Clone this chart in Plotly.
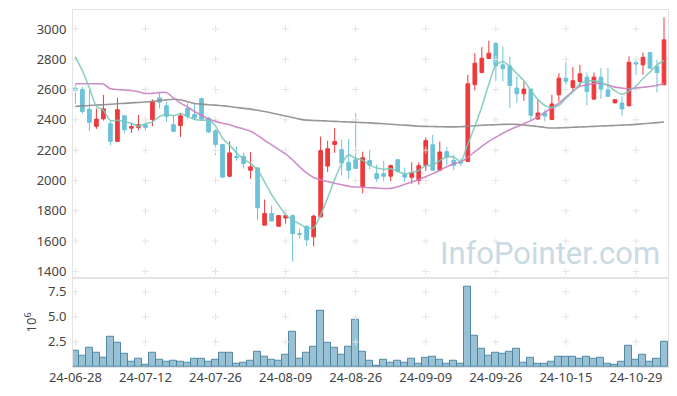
import plotly.graph_objects as go

dates = [
    "2024-06-28",
    "2024-07-01", "2024-07-02", "2024-07-03", "2024-07-04", "2024-07-05",
    "2024-07-08", "2024-07-09", "2024-07-10", "2024-07-11", "2024-07-12",
    "2024-07-15", "2024-07-16", "2024-07-17", "2024-07-18", "2024-07-19",
    "2024-07-22", "2024-07-23", "2024-07-24", "2024-07-25", "2024-07-26",
    "2024-07-29", "2024-07-30", "2024-07-31", "2024-08-01", "2024-08-02",
    "2024-08-05", "2024-08-06", "2024-08-07", "2024-08-08", "2024-08-09",
    "2024-08-12", "2024-08-13", "2024-08-14", "2024-08-16", "2024-08-19",
    "2024-08-20", "2024-08-21", "2024-08-22", "2024-08-23", "2024-08-26",
    "2024-08-27", "2024-08-28", "2024-08-29", "2024-08-30", "2024-09-02",
    "2024-09-03", "2024-09-04", "2024-09-05", "2024-09-06", "2024-09-09",
    "2024-09-10", "2024-09-11", "2024-09-12", "2024-09-13", "2024-09-19",
    "2024-09-20", "2024-09-23", "2024-09-24", "2024-09-25", "2024-09-26",
    "2024-09-27", "2024-09-30", "2024-10-02", "2024-10-04", "2024-10-07",
    "2024-10-08", "2024-10-10", "2024-10-11", "2024-10-14", "2024-10-15",
    "2024-10-16", "2024-10-17", "2024-10-18", "2024-10-21", "2024-10-22",
    "2024-10-23", "2024-10-24", "2024-10-25", "2024-10-28", "2024-10-29",
    "2024-10-30", "2024-10-31", "2024-11-01", "2024-11-04",
]

open_ = [2610, 2600, 2470, 2357, 2407, 2375, 2258, 2427, 2345, 2350,
         2368, 2402, 2545, 2493, 2368, 2362, 2475, 2435, 2540, 2410,
         2328, 2237, 2028, 2158, 2160, 2067, 2083, 1705, 1782, 1698,
         1752, 1768, 1650, 1698, 1628, 1760, 2095, 2238, 2203, 2120,
         2137, 1960, 2131, 2045, 2045, 2028, 2137, 2040, 2021, 2000,
         2098, 2236, 2067, 2190, 2133, 2125, 2126, 2632, 2712, 2805,
         2905, 2763, 2756, 2610, 2572, 2603, 2405, 2445, 2402, 2565,
         2675, 2614, 2653, 2682, 2537, 2682, 2598, 2512, 2511, 2493,
         2780, 2763, 2844, 2752, 2631]
high = [2635, 2615, 2595, 2475, 2565, 2400, 2545, 2432, 2380, 2432,
        2395, 2535, 2577, 2518, 2427, 2445, 2510, 2505, 2548, 2420,
        2338, 2238, 2258, 2225, 2183, 2188, 2090, 1874, 1835, 1770,
        1803, 1775, 1680, 1703, 1775, 2290, 2262, 2346, 2268, 2274,
        2445, 2190, 2203, 2105, 2128, 2105, 2140, 2085, 2120, 2120,
        2285, 2302, 2256, 2220, 2170, 2145, 2697, 2840, 2880, 2922,
        2910, 2884, 2818, 2690, 2653, 2605, 2533, 2467, 2565, 2708,
        2785, 2748, 2763, 2712, 2712, 2741, 2741, 2535, 2555, 2818,
        2796, 2844, 2848, 2796, 3077]
low = [2505, 2440, 2328, 2340, 2395, 2232, 2255, 2312, 2313, 2330,
       2330, 2358, 2475, 2387, 2318, 2287, 2405, 2400, 2396, 2313,
       2168, 2021, 2022, 2130, 2078, 2010, 1737, 1705, 1730, 1695,
       1715, 1464, 1617, 1568, 1565, 1755, 2056, 2182, 2033, 2010,
       2078, 1915, 2072, 1990, 1995, 1995, 2055, 1992, 1978, 1973,
       2062, 2066, 2062, 2100, 2068, 2095, 2125, 2595, 2710, 2805,
       2653, 2655, 2478, 2512, 2526, 2396, 2405, 2390, 2400, 2521,
       2631, 2588, 2620, 2495, 2533, 2537, 2553, 2510, 2428, 2489,
       2697, 2697, 2740, 2581, 2630]
close = [2595, 2455, 2383, 2405, 2473, 2258, 2467, 2335, 2355, 2368,
         2350, 2520, 2517, 2423, 2324, 2427, 2423, 2412, 2405, 2320,
         2238, 2022, 2182, 2152, 2112, 2090, 1820, 1782, 1733, 1768,
         1768, 1650, 1645, 1608, 1765, 2197, 2210, 2257, 2116, 2067,
         2080, 2150, 2100, 2012, 2028, 2098, 2060, 2022, 2050, 2098,
         2263, 2068, 2188, 2155, 2100, 2115, 2638, 2774, 2807, 2840,
         2756, 2737, 2627, 2572, 2603, 2430, 2445, 2425, 2505, 2675,
         2655, 2658, 2704, 2587, 2682, 2603, 2555, 2533, 2472, 2780,
         2768, 2813, 2741, 2712, 2928]

volume_m = [1.62, 1.09, 1.88, 1.39, 0.89, 2.98, 2.38, 1.29, 0.50, 0.79,
            0.20, 1.39, 0.69, 0.50, 0.60, 0.50, 0.40, 0.79, 0.79, 0.50,
            0.69, 1.39, 1.39, 0.30, 0.40, 0.60, 1.49, 0.99, 0.69, 0.60,
            1.19, 3.47, 0.79, 1.39, 1.98, 5.65, 2.38, 1.88, 1.19, 1.98,
            4.76, 1.49, 0.60, 0.16, 0.69, 0.40, 0.60, 0.40, 0.79, 0.30,
            0.89, 0.99, 0.69, 0.30, 0.60, 0.30, 8.04, 3.07, 1.78, 1.09,
            1.39, 1.29, 1.49, 1.78, 0.40, 0.89, 0.30, 0.30, 0.50, 0.99,
            0.99, 0.99, 0.79, 0.99, 0.79, 0.89, 0.30, 0.20, 0.50, 2.08,
            0.69, 1.19, 0.50, 0.79, 2.48]

ma5 = [2818, 2724, 2610, 2489, 2462, 2395, 2397, 2388, 2378, 2357,
       2375, 2386, 2422, 2436, 2427, 2442, 2423, 2402, 2398, 2397,
       2360, 2279, 2233, 2183, 2141, 2112, 2071, 1991, 1907, 1839,
       1774, 1740, 1713, 1688, 1687, 1773, 1885, 2007, 2109, 2169,
       2146, 2134, 2103, 2082, 2074, 2078, 2060, 2044, 2052, 2066,
       2099, 2100, 2133, 2154, 2155, 2125, 2239, 2356, 2487, 2635,
       2763, 2783, 2753, 2706, 2659, 2594, 2535, 2495, 2482, 2496,
       2541, 2584, 2639, 2656, 2657, 2647, 2626, 2592, 2569, 2589,
       2622, 2673, 2715, 2763, 2792]
ma20 = [2638, 2638, 2638, 2638, 2636, 2605, 2600, 2597, 2594, 2585,
        2574, 2575, 2580, 2580, 2545, 2510, 2485, 2455, 2430, 2405,
        2390, 2378, 2368, 2352, 2340, 2325, 2298, 2265, 2235, 2205,
        2175, 2135, 2090, 2050, 2020, 2005, 1993, 1982, 1972, 1962,
        1957, 1955, 1952, 1950, 1947, 1948, 1958, 1975, 1990, 2005,
        2025, 2045, 2068, 2090, 2110, 2122, 2153, 2190, 2225, 2258,
        2285, 2312, 2335, 2355, 2375, 2395, 2420, 2450, 2480, 2510,
        2550, 2590, 2620, 2631, 2640, 2642, 2630, 2616, 2610, 2605,
        2610, 2615, 2620, 2628, 2638]
ma120 = [2489, 2492, 2495, 2498, 2500, 2503, 2506, 2509, 2512, 2515,
         2518, 2522, 2527, 2532, 2536, 2533, 2520, 2508, 2504, 2500,
         2497, 2493, 2488, 2482, 2476, 2471, 2463, 2455, 2445, 2435,
         2425, 2415, 2405, 2398, 2396, 2394, 2392, 2390, 2388, 2386,
         2384, 2382, 2380, 2377, 2374, 2371, 2368, 2365, 2362, 2358,
         2357, 2356, 2355, 2354, 2354, 2355, 2358, 2361, 2364, 2366,
         2368, 2370, 2371, 2370, 2366, 2361, 2356, 2350, 2346, 2347,
         2349, 2351, 2353, 2355, 2357, 2359, 2361, 2363, 2365, 2367,
         2370, 2374, 2378, 2382, 2386]

tick_dates = ["2024-06-28", "2024-07-12", "2024-07-26", "2024-08-09",
              "2024-08-26", "2024-09-09", "2024-09-26", "2024-10-15",
              "2024-10-29"]
tick_labels = ["24-06-28", "24-07-12", "24-07-26", "24-08-09",
               "24-08-26", "24-09-09", "24-09-26", "24-10-15",
               "24-10-29"]
price_ticks = [1400, 1600, 1800, 2000, 2200, 2400, 2600, 2800, 3000]
vol_ticks = [2.5, 5.0, 7.5]

RED = "#EE3A3C"
BLUE = "#6CC2D8"
GRID = "#E4E4E4"
FRAME = "#E3E3E3"
FONT = dict(family="Noto Sans, Open Sans, sans-serif", size=13, color="#444444")

fig = go.Figure()

# grid crosses at tick intersections
gx, gy = [], []
for d in tick_dates:
    for p in price_ticks:
        gx.append(d)
        gy.append(p)
fig.add_trace(go.Scatter(x=gx, y=gy, mode="markers", xaxis="x2", yaxis="y2",
                         marker=dict(symbol="cross-thin", size=5,
                                     line=dict(color=GRID, width=1)),
                         hoverinfo="skip", showlegend=False))
vx, vy = [], []
for d in tick_dates:
    for v in vol_ticks:
        vx.append(d)
        vy.append(v * 1e6)
fig.add_trace(go.Scatter(x=vx, y=vy, mode="markers", xaxis="x", yaxis="y",
                         marker=dict(symbol="cross-thin", size=5,
                                     line=dict(color=GRID, width=1)),
                         hoverinfo="skip", showlegend=False))

fig.add_trace(go.Candlestick(
    x=dates, open=open_, high=high, low=low, close=close,
    xaxis="x2", yaxis="y2",
    increasing=dict(line=dict(color=RED, width=1), fillcolor=RED),
    decreasing=dict(line=dict(color=BLUE, width=1), fillcolor=BLUE),
    whiskerwidth=0, showlegend=False,
))

for vals, col in [(ma120, "rgba(140,140,140,0.9)"),
                  (ma20, "rgba(200,130,195,0.9)"),
                  (ma5, "rgba(120,200,185,0.85)")]:
    fig.add_trace(go.Scatter(x=dates, y=vals, mode="lines", xaxis="x2", yaxis="y2",
                             line=dict(color=col, width=1.6, shape="spline", smoothing=0.6),
                             hoverinfo="skip", showlegend=False))

fig.add_trace(go.Bar(
    x=dates, y=[v * 1e6 for v in volume_m], xaxis="x", yaxis="y",
    marker=dict(color="rgba(135,182,203,0.85)",
                line=dict(color="rgba(70,130,160,0.9)", width=1)),
    showlegend=False,
))

# page body has an 8px margin, so the figure is sized/offset to compensate
xr = [-0.34, 84.57]
fig.update_layout(
    width=669, height=388,
    margin=dict(l=65, r=9, t=2, b=29),
    paper_bgcolor="white", plot_bgcolor="white",
    font=FONT,
    bargap=0,
    boxgap=0.25,
    xaxis=dict(type="category", categoryorder="array", categoryarray=dates,
               range=xr, domain=[0, 1], anchor="y", automargin=False,
               tickmode="array", tickvals=tick_dates, ticktext=tick_labels,
               showgrid=False, zeroline=False, showline=True, mirror=True,
               linecolor=FRAME, linewidth=1, ticks="", tickfont=FONT,
               ticklabelstandoff=-2,
               rangeslider=dict(visible=False)),
    xaxis2=dict(type="category", categoryorder="array", categoryarray=dates,
                range=xr, domain=[0, 1], anchor="y2", matches="x",
                automargin=False,
                showticklabels=False, showgrid=False, zeroline=False,
                showline=True, mirror=True, linecolor=FRAME, linewidth=1,
                ticks="", rangeslider=dict(visible=False)),
    yaxis=dict(domain=[0, 0.25], range=[0, 8.9e6], automargin=False,
               tickmode="array", tickvals=[v * 1e6 for v in vol_ticks],
               ticktext=["%.1f" % v for v in vol_ticks],
               showgrid=False, zeroline=False, showline=True, mirror=True,
               linecolor=FRAME, linewidth=1,
               ticks="outside", ticklen=3, tickcolor="rgba(0,0,0,0)",
               tickfont=FONT,
               title=dict(text="10<sup>6</sup>", font=FONT, standoff=8)),
    yaxis2=dict(domain=[0.25, 1], range=[1358, 3125], automargin=False,
                tickmode="array", tickvals=price_ticks,
                ticktext=[str(v) for v in price_ticks],
                showgrid=False, zeroline=False, showline=True, mirror=True,
                linecolor=FRAME, linewidth=1,
                ticks="outside", ticklen=3, tickcolor="rgba(0,0,0,0)",
                tickfont=FONT),
    annotations=[dict(text="InfoPointer.com", xref="paper", yref="paper",
                      x=0.99, y=0.318, xanchor="right", yanchor="middle",
                      showarrow=False,
                      font=dict(family="Roboto, Noto Sans, sans-serif", size=31,
                                color="#C9DAE4"))],
)

fig.write_html("out.html")
